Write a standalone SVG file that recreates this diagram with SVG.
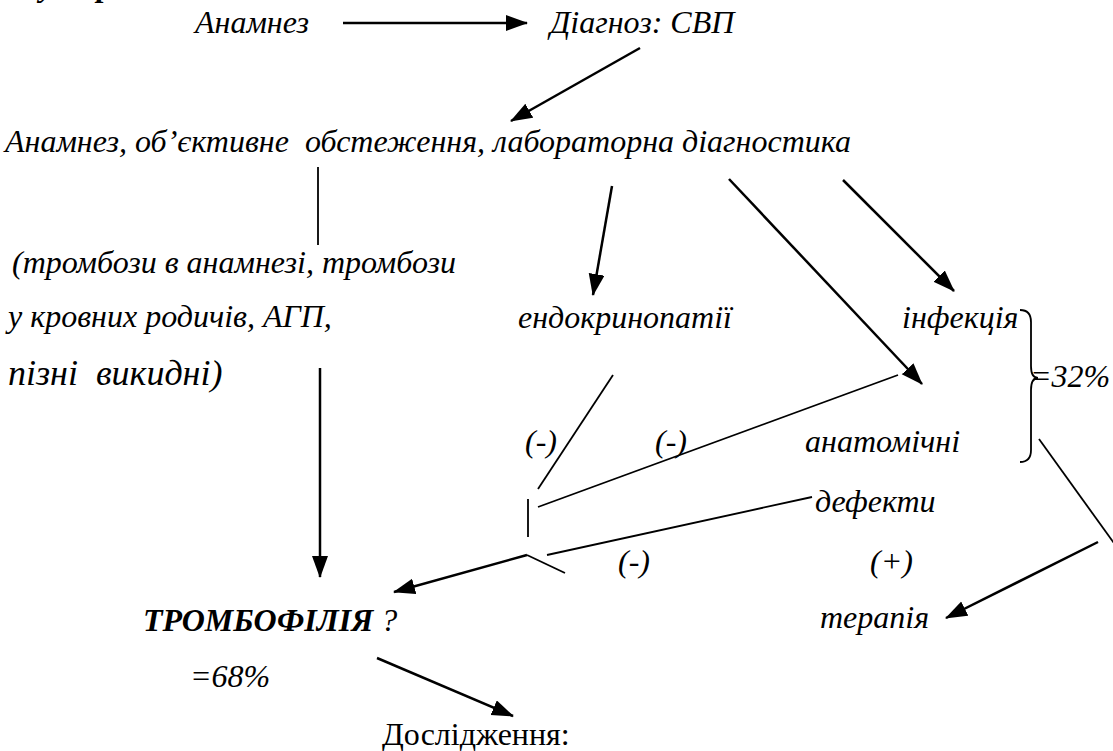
<svg xmlns="http://www.w3.org/2000/svg" width="1113" height="751" viewBox="0 0 1113 751">
<defs>
<style>
text{font-family:"Liberation Serif","Times New Roman",serif;font-style:italic;font-size:32px;fill:#000}
.big{font-size:36px}
.b{font-weight:bold}
.up{font-style:normal}
.ln{stroke:#000;stroke-width:2.5;fill:none}
.th{stroke:#000;stroke-width:1.8;fill:none}
.ar{stroke:#000;stroke-width:2.5;fill:none;marker-end:url(#ah)}
</style>
<marker id="ah" markerUnits="userSpaceOnUse" markerWidth="22" markerHeight="17" refX="21" refY="8" orient="auto" viewBox="0 0 22 17">
<path d="M0,0 L22,8 L0,16 z" fill="#000"/>
</marker>
</defs>
<rect width="1113" height="751" fill="#fff"/>
<g id="title"><text class="b"><tspan x="40" y="-4">у</tspan><tspan x="97" y="-4">р</tspan></text></g>
<g id="n-anamnez"><text x="195" y="33">Анамнез</text></g>
<g id="n-diagnoz"><text x="550" y="33">Діагноз: СВП</text></g>
<g id="n-obst"><text x="5" y="152" xml:space="preserve">Анамнез, об’єктивне  обстеження, лабораторна діагностика</text></g>
<g id="n-tromb"><text x="12" y="273">(тромбози в анамнезі, тромбози</text><text x="8" y="327">у кровних родичів, АГП,</text><text class="big" x="8" y="385" xml:space="preserve">пізні  викидні)</text></g>
<g id="n-endo"><text x="518" y="328">ендокринопатії</text></g>
<g id="n-infek"><text x="902" y="328">інфекція</text></g>
<g id="n-anat"><text x="805" y="452">анатомічні</text><text x="815" y="512">дефекти</text></g>
<g id="n-32"><text x="1030" y="387">=32%</text></g>
<g id="n-m1"><text x="525" y="452">(-)</text></g>
<g id="n-m2"><text x="655" y="452">(-)</text></g>
<g id="n-m3"><text x="618" y="572">(-)</text></g>
<g id="n-p"><text x="870" y="572">(+)</text></g>
<g id="n-terap"><text x="820" y="628">терапія</text></g>
<g id="n-trombof"><text x="143" y="631"><tspan class="b">ТРОМБОФІЛІЯ</tspan> ?</text></g>
<g id="n-68"><text x="190" y="687">=68%</text></g>
<g id="n-dosl"><text class="up" x="382" y="745">Дослідження:</text></g>
<g id="connectors">
<line class="ar" x1="343" y1="23" x2="527" y2="23"/>
<line class="ar" x1="640" y1="48" x2="511" y2="121"/>
<line class="th" x1="318" y1="167" x2="318" y2="245"/>
<line class="ar" x1="320" y1="368" x2="320" y2="577"/>
<line class="ar" x1="612" y1="186" x2="593" y2="295"/>
<line class="ar" x1="729" y1="179" x2="922" y2="384"/>
<line class="ar" x1="843" y1="180" x2="954" y2="291"/>
<path class="th" d="M1020,310 Q1031,310 1031,322 L1031,366 Q1031,378 1038,378 Q1031,378 1031,390 L1031,450 Q1031,462 1020,462"/>
<line class="th" x1="613" y1="375" x2="538" y2="489"/>
<line class="th" x1="898" y1="375" x2="538" y2="507"/>
<line class="th" x1="528" y1="499" x2="528" y2="537"/>
<line class="th" x1="547" y1="555" x2="812" y2="497"/>
<line class="ar" x1="527" y1="555" x2="394" y2="592"/>
<line class="th" x1="527" y1="555" x2="565" y2="573"/>
<line class="th" x1="1039" y1="439" x2="1116" y2="546"/>
<line class="ar" x1="1098" y1="542" x2="946" y2="618"/>
<line class="ar" x1="377" y1="658" x2="513" y2="716"/>
</g>
</svg>
